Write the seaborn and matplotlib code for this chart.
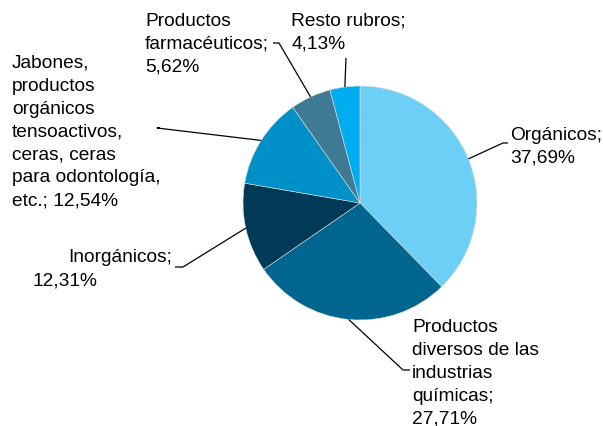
import numpy as np
import matplotlib
matplotlib.use('Agg')
import matplotlib.pyplot as plt
import seaborn as sns

# data
categories = ['Orgánicos', 'Productos diversos de las industrias químicas', 'Inorgánicos',
              'Jabones, productos orgánicos tensoactivos, ceras, ceras para odontología, etc.',
              'Productos farmacéuticos', 'Resto rubros']
shares = [37.69, 27.71, 12.31, 12.54, 5.62, 4.13]
share_labels = ['37,69%', '27,71%', '12,31%', '12,54%', '5,62%', '4,13%']
colors = ['#6dcff6', '#00658f', '#003a57', '#0090c8', '#3f7a94', '#00aeef']

sns.set_theme(style='white')
plt.rcParams['font.family'] = ['Liberation Sans', 'DejaVu Sans']

W, H = 603, 426
fig = plt.figure(figsize=(W / 100, H / 100), dpi=100)
ax = fig.add_axes([0, 0, 1, 1])

cx, cy, R = 360, 203, 117  # pixel coords from top-left


def P(x, y):
    return x, H - y


wedges, _ = ax.pie(shares, colors=colors, startangle=90, counterclock=False,
                   center=P(cx, cy), radius=R,
                   wedgeprops=dict(linewidth=0.4, edgecolor='#dddddd'))
ax.set_xlim(0, W)
ax.set_ylim(0, H)
ax.set_aspect('equal')
ax.axis('off')

fs = 13.8
# leader lines: mid-angle of each wedge -> elbow -> end
legs = [
    [(503, 143), (508, 143)],
    [(403, 370), (410, 370)],
    [(183, 267), (175, 267)],
    [(157, 128), (160, 128)],
    [(279, 43), (273, 43)],
    [(346, 58), (346, 58)],
]
for w, leg in zip(wedges, legs):
    ang = np.deg2rad((w.theta1 + w.theta2) / 2)
    ex = cx + R * np.cos(ang)
    ey = cy - R * np.sin(ang)
    xs = [ex] + [p[0] for p in leg]
    ys = [H - ey] + [H - p[1] for p in leg]
    ax.plot(xs, ys, color='black', lw=0.9, solid_capstyle='butt')

tk = dict(fontsize=fs, color='black', va='top', ha='left', linespacing=1.45)
ax.text(*P(510, 127), 'Orgánicos;\n' + share_labels[0], **tk)
ax.text(*P(412, 319), 'Productos\ndiversos de las\nindustrias\nquímicas;\n' + share_labels[1], **tk)
ax.text(*P(172, 249), 'Inorgánicos;', **{**tk, 'ha': 'right'})
ax.text(*P(33, 272), share_labels[2], **tk)
ax.text(*P(12, 55), 'Jabones,\nproductos\norgánicos\ntensoactivos,\nceras, ceras\npara odontología,\netc.; ' + share_labels[3], **tk)
ax.text(*P(145, 13), 'Productos\nfarmacéuticos;\n' + share_labels[4], **tk)
ax.text(*P(291, 13), 'Resto rubros;\n' + share_labels[5], **tk)

fig.savefig('out.png', dpi=100)
